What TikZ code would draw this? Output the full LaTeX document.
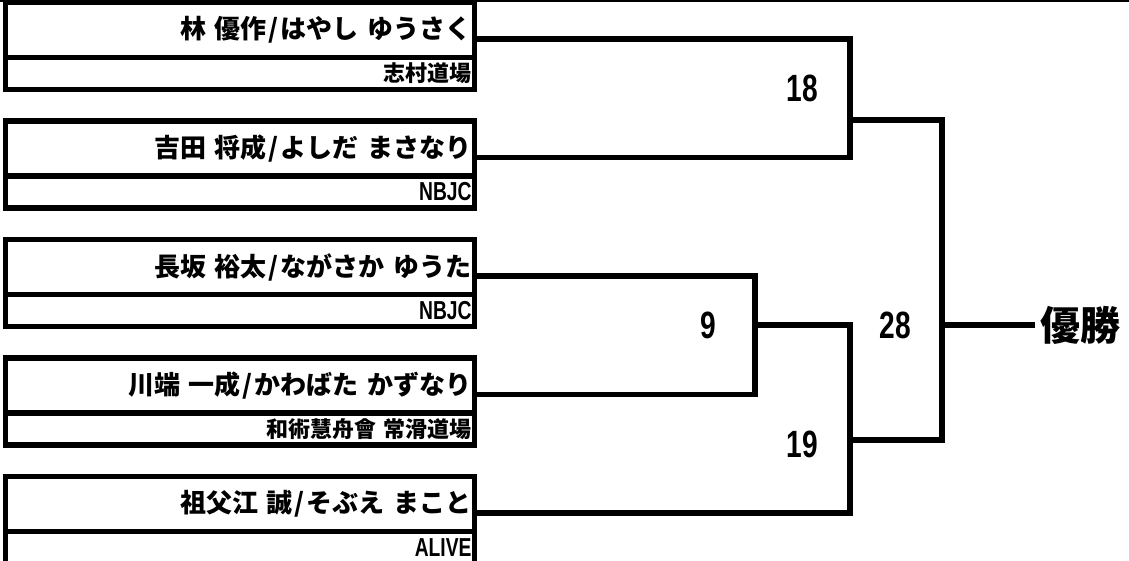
\documentclass[tikz,border=0pt]{standalone}
\usepackage{fontspec}
\newfontfamily\jpfont{Noto Sans CJK JP Black}
\newfontfamily\condfont{Liberation Sans Bold}[FakeStretch=0.74]
\newcommand{\slsep}{\kern2pt/\kern2pt}
\usetikzlibrary{calc,positioning}
\tikzset{
  namebox/.style={draw,line width=5.5pt,outer sep=0pt,minimum width=469pt,minimum height=55pt,text width=463pt,align=right,inner xsep=3pt,inner ysep=0pt,font=\jpfont\fontsize{26}{26}\selectfont},
  dojobox/.style={draw,line width=5.5pt,outer sep=0pt,minimum width=469pt,minimum height=32pt,text width=463pt,align=right,inner xsep=3pt,inner ysep=0pt,font=\jpfont\fontsize{22}{22}\selectfont},
  latin/.style={font=\condfont\fontsize{26}{26}\selectfont},
  score/.style={inner sep=0pt,font=\condfont\fontsize{38}{38}\selectfont},
  bracket/.style={line width=5.5pt}
}
\begin{document}
\begin{tikzpicture}[x=1pt,y=-1pt]
\useasboundingbox (0,0) rectangle (1129,560);
\draw[line width=2pt] (0,1) -- (1129,1);
\node[namebox] (n1) at (240,30) {林 優作\slsep はやし ゆうさく};
\node[dojobox,anchor=north] (d1) at (n1.south) {志村道場};
\node[namebox,below=31.5pt of d1] (n2) {吉田 将成\slsep よしだ まさなり};
\node[dojobox,latin,anchor=north] (d2) at (n2.south) {NBJC};
\node[namebox,below=31.5pt of d2] (n3) {長坂 裕太\slsep ながさか ゆうた};
\node[dojobox,latin,anchor=north] (d3) at (n3.south) {NBJC};
\node[namebox,below=31.5pt of d3] (n4) {川端 一成\slsep かわばた かずなり};
\node[dojobox,anchor=north] (d4) at (n4.south) {和術慧舟會 常滑道場};
\node[namebox,below=31.5pt of d4] (n5) {祖父江 誠\slsep そぶえ まこと};
\node[dojobox,latin,anchor=north] (d5) at (n5.south) {ALIVE};
\coordinate (e1) at ($(n1.east)+(0,9)$);
\coordinate (e2) at ($(n2.east)+(0,9)$);
\coordinate (e3) at ($(n3.east)+(0,9)$);
\coordinate (e4) at ($(n4.east)+(0,9)$);
\coordinate (e5) at ($(n5.east)+(0,9)$);
\coordinate (c18) at (850,120);
\coordinate (c9) at (755,325);
\coordinate (c19) at (850,440);
\coordinate (cf) at (942,325);
\draw[bracket] (e1) -| (c18) |- (e2);
\draw[bracket] (e3) -| (c9) |- (e4);
\draw[bracket] (c9) -| (c19) |- (e5);
\draw[bracket] (c18) -| (cf) |- (c19);
\node[anchor=west,inner xsep=5pt,inner ysep=0pt,font=\jpfont\fontsize{40}{40}\selectfont] (win) at (1035,325) {優勝};
\draw[bracket] (cf) -- (win.west);
\node[score] (s18) at (802,88) {18};
\node[score] (s9) at (708,325) {9};
\node[score] (s28) at (895,325) {28};
\node[score] (s19) at (802,444) {19};
\end{tikzpicture}
\end{document}
